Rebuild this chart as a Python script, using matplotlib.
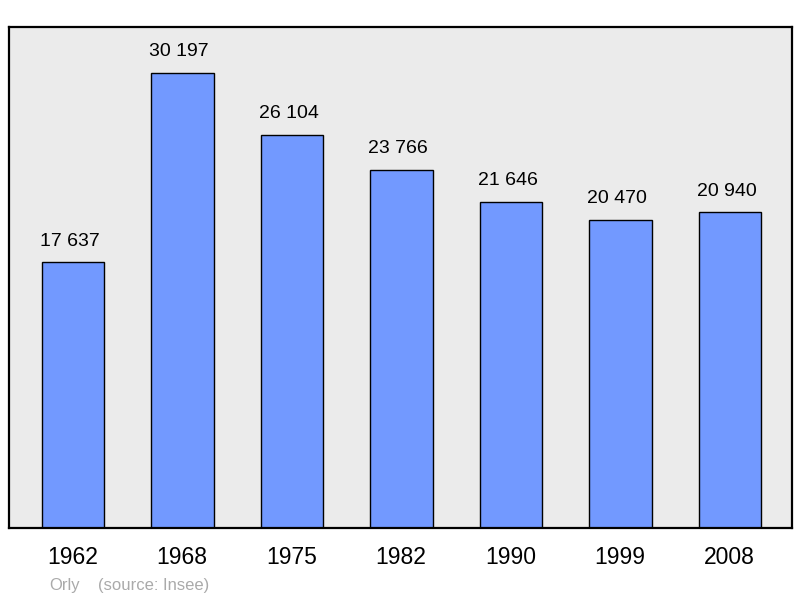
import matplotlib.pyplot as plt

years = ['1962', '1968', '1975', '1982', '1990', '1999', '2008']
population = [17637, 30197, 26104, 23766, 21646, 20470, 20940]


def fmt(v):
    return '{:,}'.format(v).replace(',', ' ')


def main():
    plt.rcParams['font.family'] = ['Liberation Sans', 'DejaVu Sans']

    fig = plt.figure(figsize=(8, 5.98), dpi=100)
    ax = fig.add_axes([9 / 800, 70 / 598, 783 / 800, 501 / 598])
    ax.set_facecolor('#ebebeb')

    x = range(len(years))
    ax.bar(x, population, width=0.57, color='#7299ff', edgecolor='black', linewidth=1.0)

    for i, v in zip(x, population):
        ax.annotate(fmt(v), xy=(i, v), xytext=(-2.5, 12), textcoords='offset points',
                    ha='center', va='baseline', fontsize=14)
        ax.annotate(years[i], xy=(i, 0), xytext=(-0.3, -26), textcoords='offset points',
                    ha='center', va='baseline', fontsize=16.5, annotation_clip=False)

    ax.set_xlim(-0.584, 6.566)
    ax.set_ylim(0, 33250)
    ax.set_xticks([])
    ax.set_yticks([])
    for s in ax.spines.values():
        s.set_linewidth(1.6)

    fig.text(49 / 800, 1 - 590 / 598, 'Orly', color='#aaaaaa', fontsize=12, va='baseline')
    fig.text(98 / 800, 1 - 590 / 598, '(source: Insee)', color='#aaaaaa', fontsize=12, va='baseline')

    fig.savefig('out.png', dpi=100)


if __name__ == "__main__":
    main()
